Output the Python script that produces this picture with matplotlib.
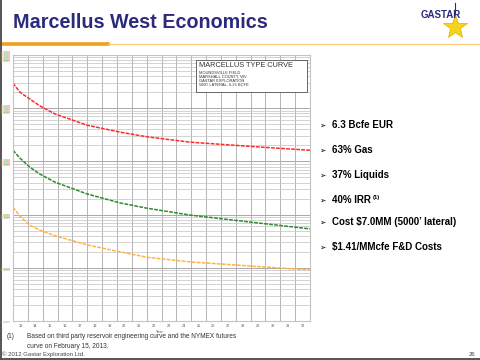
import matplotlib
matplotlib.use("Agg")
import matplotlib.pyplot as plt
from matplotlib.patches import Rectangle
from matplotlib.lines import Line2D
import matplotlib.transforms as mtransforms

# ---------------- data ----------------
years = [13.0, 13.47, 14.14, 14.82, 15.83, 17.98, 20.2, 22.02, 24.92, 29.63, 33.0]
gas = [29500, 20000, 14800, 11000, 7800, 4800, 3550, 2900, 2300, 1860, 1620]
oil = [1620, 1150, 776, 575, 407, 245, 166, 132, 98, 69, 54]
ngl = [138, 93, 63, 51, 40, 27, 20, 15.8, 12.9, 10.5, 9.1]

year_labels = [str(y) for y in range(13, 33)]
decades = [1, 10, 100, 1000, 10000, 100000]
decade_labels = ["1", "10", "100", "1000", "10000", "100000"]

bullets = ["6.3 Bcfe EUR", "63% Gas", "37% Liquids", "40% IRR",
           "Cost $7.0MM (5000\u2019 lateral)", "$1.41/MMcfe F&D Costs"]
box_title = "MARCELLUS TYPE CURVE"
box_lines = ["MOUNDSVILLE FIELD", "MARSHALL COUNTY, WV",
             "GASTAR EXPLORATION", "5000' LATERAL, 6.25 BCFE"]

plt.rcParams['font.family'] = ['Liberation Sans', 'DejaVu Sans']

W, H = 480, 360
fig = plt.figure(figsize=(4.8, 3.6), dpi=100)

def fx(px):
    return px / W

def fy(py):
    return 1 - py / H

# ---------------- slide decorations ----------------
navy = '#2b2a7c'
fig.text(fx(13), fy(23), "Marcellus West Economics", color=navy,
         fontsize=14.2, fontweight='bold', va='center', ha='left')
fig.add_artist(Line2D([0, fx(108)], [fy(43.5), fy(43.5)], color='#efa11c', lw=2.6,
                      transform=fig.transFigure))
fig.add_artist(Line2D([fx(108), 1], [fy(43.5), fy(43.5)], color='#f8c878', lw=0.8,
                      transform=fig.transFigure))
# logo
fig.add_artist(Line2D([fx(455), fx(455)], [fy(3), fy(22)], color=navy, lw=0.8,
                      transform=fig.transFigure))
fig.add_artist(Line2D([fx(455)], [fy(27)], marker='*', markersize=18,
                      color='#f7d41c', markeredgecolor='#e0b000', markeredgewidth=0.5,
                      transform=fig.transFigure))
fig.text(fx(441), fy(15), "GASTAR", color=navy, fontsize=7, fontweight='bold',
         ha='center', va='center')
# slide border
fig.add_artist(Line2D([fx(0.7), fx(0.7)], [0, 1], color='#555555', lw=1.4,
                      transform=fig.transFigure))
fig.add_artist(Line2D([0, 1], [fy(359.3), fy(359.3)], color='#555555', lw=1.4,
                      transform=fig.transFigure))

# ---------------- chart ----------------
ax = fig.add_axes([fx(13), fy(321), fx(310) - fx(13), fy(55) - fy(321)])
ax.set_yscale('log')
ax.set_xlim(13, 33)
ax.set_ylim(1, 1e5)

ax.set_xticks(range(14, 33))
ax.set_xticklabels([])
ax.set_xticks([y + 0.5 for y in range(13, 33)], minor=True)
ax.set_xticklabels(year_labels, minor=True, fontsize=2.8, color='#555555')
ax.tick_params(axis='x', which='both', length=0, pad=2)
ax.set_yticks(decades)
ax.set_yticklabels([])
ax.tick_params(axis='y', which='both', length=0)
ax.yaxis.set_minor_formatter(matplotlib.ticker.NullFormatter())

ax.grid(True, which='major', axis='x', color='#b4b4b4', lw=0.7)
ax.grid(True, which='major', axis='y', color='#a8a8a8', lw=0.7)
ax.grid(True, which='minor', axis='y', color='#c6c6c6', lw=0.55)
for s in ax.spines.values():
    s.set_color('#c4c4c4')
    s.set_linewidth(0.8)

ax.plot(years, gas, color='#ff2a2a', lw=1.1, ls=(0, (2.5, 0.8)))
ax.plot(years, oil, color='#2e8b2e', lw=1.1, ls=(0, (2.5, 0.8)))
ax.plot(years, ngl, color='#ffb347', lw=1.1, ls=(0, (2.5, 0.8)))

ax.text(22.9, -0.035, "Year", transform=ax.get_xaxis_transform(), fontsize=2.8,
        color='#555555', ha='center', va='top')

# coloured y tick labels (three per decade)
trans = mtransforms.blended_transform_factory(fig.transFigure, ax.transData)
for v, lab in zip(decades, decade_labels):
    for xo, c in zip([3.5, 6.5, 9.5], ['#f5a623', '#3a9a3a', '#ff4040']):
        fig.text(fx(xo), v, lab, transform=trans, rotation=90, fontsize=2.6,
                 color=c, ha='center', va='center')

# info box
bx0, bx1 = (196 - 13) / 297, (307 - 13) / 297
by0, by1 = 1 - (92 - 55) / 266, 1 - (60 - 55) / 266
ax.add_patch(Rectangle((bx0, by0), bx1 - bx0, by1 - by0, transform=ax.transAxes,
                       facecolor='white', edgecolor='#666666', lw=0.7, zorder=5))
ax.text(bx0 + 0.01, 1 - (65.5 - 55) / 266, box_title, transform=ax.transAxes,
        fontsize=5.3, color='#333333', va='center', ha='left', zorder=6)
for i, t in enumerate(box_lines):
    ax.text(bx0 + 0.01, 1 - (72.5 + 4.0 * i - 55) / 266, t, transform=ax.transAxes,
            fontsize=2.9, color='#333333', va='center', ha='left', zorder=6)

# ---------------- bullets ----------------
ys = [125, 150, 175, 200, 222, 247]
for yb, t in zip(ys, bullets):
    fig.text(fx(322), fy(yb), "\u27a2", fontsize=5.5, color='black',
             family='DejaVu Sans', ha='center', va='center')
    fig.text(fx(332), fy(yb), t, fontsize=7, fontweight='bold', color='black',
             ha='left', va='center')
    if t.startswith("40% IRR"):
        fig.text(fx(373), fy(yb - 3), "(1)", fontsize=4.2, fontweight='bold',
                 color='black', ha='left', va='center')

# ---------------- footnote ----------------
fn = '#333333'
fig.text(fx(7), fy(337), "(1)", fontsize=4.7, color=fn, ha='left', va='center')
fig.text(fx(27), fy(337), "Based on third party reservoir engineering curve and the NYMEX futures",
         fontsize=4.7, color=fn, ha='left', va='center')
fig.text(fx(27), fy(346), "curve on February 15, 2013.", fontsize=4.7, color=fn,
         ha='left', va='center')
fig.text(fx(2), fy(354.5), "\u00a9 2012 Gastar Exploration Ltd.", fontsize=4.3,
         color='#444444', ha='left', va='center')
fig.text(fx(475), fy(354.5), "26", fontsize=4.3, color='#444444', ha='right',
         va='center')

fig.savefig("out.png", dpi=100)
